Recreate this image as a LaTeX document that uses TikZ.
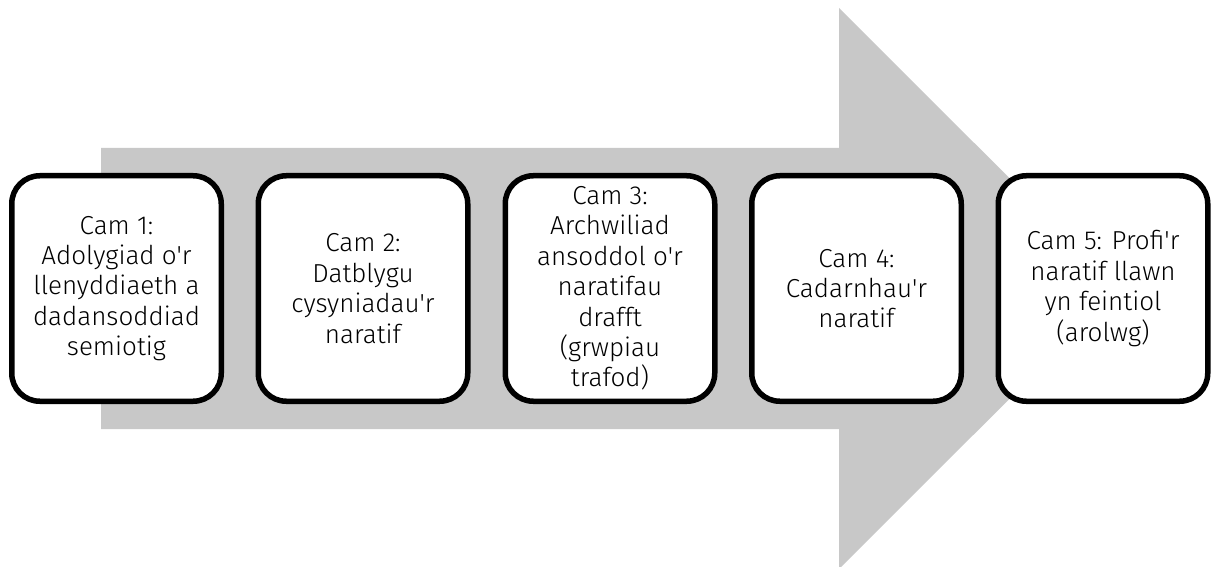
\documentclass[tikz,border=0pt]{standalone}
\usepackage{fontspec}
\setmainfont{Fira Sans Light}[Ligatures=TeXOff]
\definecolor{arrowgray}{RGB}{200,200,200}

\begin{document}
\begin{tikzpicture}[x=0.5pt,y=-0.5pt,
  camstep/.style={draw=black,fill=white,line width=2.75pt,rounded corners=14pt,
    minimum width=104.75pt,minimum height=112.75pt,inner sep=0pt,align=center,
    font=\fontsize{13}{15.2}\selectfont}]

\useasboundingbox (0,0) rectangle (1211,567);

% big grey arrow behind the steps
\fill[arrowgray] (101,148) -- (839,148) -- (839,8) -- (1120,288.5)
  -- (839,569) -- (839,429) -- (101,429) -- cycle;

\node[camstep] (C1) at (116.5,288.5) {Cam 1:\\Adolygiad o'r\\llenyddiaeth a\\dadansoddiad\\semiotig};
\node[camstep] (C2) at (363,288.5) {Cam 2:\\Datblygu\\cysyniadau'r\\naratif};
\node[camstep] (C3) at (610,288.5) {Cam 3:\\Archwiliad\\ansoddol o'r\\naratifau\\drafft\\(grwpiau\\trafod)};
\node[camstep] (C4) at (856.5,288.5) {Cam 4:\\Cadarnhau'r\\naratif};
\node[camstep] (C5) at (1103,288.5) {Cam 5: Profi'r\\naratif llawn\\yn feintiol\\(arolwg)};

\end{tikzpicture}
\end{document}
